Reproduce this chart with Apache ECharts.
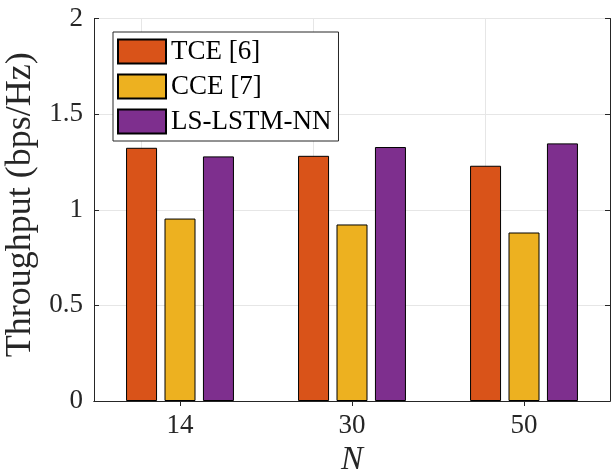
<!DOCTYPE html>
<html>
<head>
<meta charset="utf-8">
<script src="https://cdn.jsdelivr.net/npm/echarts@6/dist/echarts.min.js"></script>
<style>
html,body{margin:0;padding:0;background:#fff;}
#chart{width:611px;height:474px;}
</style>
</head>
<body>
<div id="chart"></div>
<script>
const categories = ['14', '30', '50'];
const tce = [1.324, 1.282, 1.230];
const cce = [0.954, 0.923, 0.881];
const lslstm = [1.279, 1.328, 1.347];
const seriesNames = ['TCE [6]', 'CCE [7]', 'LS-LSTM-NN'];
const yTicks = { min: 0, max: 2, interval: 0.5 };

const FONT = '"Liberation Serif", "DejaVu Serif", "Times New Roman", serif';
const AX = '#262626';
const GRID = '#e6e6e6';

const chart = echarts.init(document.getElementById('chart'), null, { renderer: 'canvas' });

function barSeries(name, data, color, extra) {
  return Object.assign({
    name: name,
    type: 'bar',
    data: data,
    barWidth: 31,
    barGap: '24%',
    z: 3,
    itemStyle: { color: color, borderColor: '#000', borderWidth: 1 },
    emphasis: { disabled: true }
  }, extra || {});
}

const option = {
  animation: false,
  backgroundColor: '#fff',
  textStyle: { fontFamily: FONT },
  grid: { left: 94, right: 1, top: 18.5, bottom: 73, containLabel: false, outerBoundsMode: 'none' },
  legend: {
    data: seriesNames,
    orient: 'vertical',
    left: 113,
    top: 32,
    itemWidth: 48,
    itemHeight: 24,
    itemGap: 8,
    padding: [6, 7, 6, 4],
    backgroundColor: '#fff',
    borderColor: AX,
    borderWidth: 1,
    icon: 'rect',
    textStyle: { fontFamily: FONT, fontSize: 27, color: '#000', lineHeight: 24 }
  },
  xAxis: [
    {
      type: 'category',
      data: categories,
      position: 'bottom',
      name: 'N',
      nameLocation: 'middle',
      nameGap: 42,
      nameTextStyle: { fontFamily: FONT, fontSize: 33, fontStyle: 'italic', color: AX },
      axisLine: { show: true, lineStyle: { color: AX, width: 1 } },
      axisTick: { show: true, inside: true, alignWithLabel: true, length: 5, lineStyle: { color: AX } },
      axisLabel: { fontFamily: FONT, fontSize: 27, color: AX, margin: 11 },
      splitLine: { show: false }
    },
    {
      type: 'category',
      data: categories,
      position: 'top',
      axisLine: { show: true, lineStyle: { color: AX, width: 1 } },
      axisTick: { show: true, inside: true, alignWithLabel: true, length: 5, lineStyle: { color: AX } },
      axisLabel: { show: false },
      splitLine: { show: false }
    }
  ],
  yAxis: [
    {
      type: 'value',
      min: yTicks.min,
      max: yTicks.max,
      interval: yTicks.interval,
      position: 'left',
      name: 'Throughput (bps/Hz)',
      nameLocation: 'middle',
      nameGap: 55,
      nameTextStyle: { fontFamily: FONT, fontSize: 36, color: AX, padding: [0, 0, 0, 10] },
      axisLine: { show: true, lineStyle: { color: AX, width: 1 } },
      axisTick: { show: true, inside: true, length: 5, lineStyle: { color: AX } },
      axisLabel: { fontFamily: FONT, fontSize: 27, color: AX, margin: 11 },
      splitLine: { show: true, lineStyle: { color: GRID, width: 1 } }
    },
    {
      type: 'value',
      min: yTicks.min,
      max: yTicks.max,
      interval: yTicks.interval,
      position: 'right',
      axisLine: { show: true, lineStyle: { color: AX, width: 1 } },
      axisTick: { show: true, inside: true, length: 5, lineStyle: { color: AX } },
      axisLabel: { show: false },
      splitLine: { show: false }
    }
  ],
  series: [
    barSeries(seriesNames[0], tce, '#D95319', {
      markLine: {
        silent: true,
        symbol: 'none',
        z: 1,
        label: { show: false },
        lineStyle: { color: GRID, width: 1, type: 'solid' },
        data: categories.map(c => ({ xAxis: c }))
      }
    }),
    barSeries(seriesNames[1], cce, '#EDB120'),
    barSeries(seriesNames[2], lslstm, '#7E2F8E')
  ]
};

chart.setOption(option);
</script>
</body>
</html>
